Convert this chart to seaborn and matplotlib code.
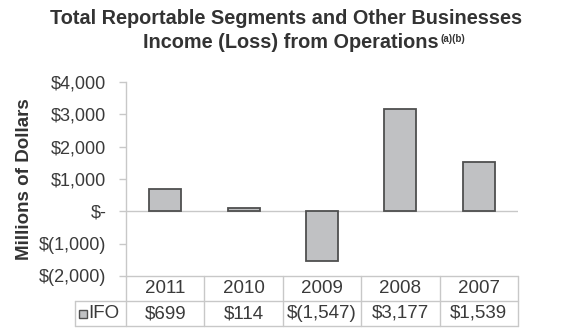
import matplotlib
matplotlib.use("Agg")
import matplotlib.pyplot as plt
import seaborn as sns
import pandas as pd
from matplotlib.patches import Rectangle
from matplotlib.lines import Line2D

years = ["2011", "2010", "2009", "2008", "2007"]
ifo = [699, 114, -1547, 3177, 1539]
series_name = "IFO"
yticks = [4000, 3000, 2000, 1000, 0, -1000, -2000]
ytick_labels = ["$4,000", "$3,000", "$2,000", "$1,000", "$-", "$(1,000)", "$(2,000)"]

sns.set_theme(style="white")
plt.rcParams["font.family"] = ["Liberation Sans", "DejaVu Sans"]

BAR = "#c0c1c3"
EDGE = "#4f4f4f"
GRID = "#c8c8c8"
TXT = "#333333"
LBL = "#3a3a3a"

def money(v):
    s = f"{abs(v):,}"
    return f"$({s})" if v < 0 else f"${s}"

df = pd.DataFrame({"year": years, "value": ifo})

fig = plt.figure(figsize=(5.64, 3.30), dpi=100)
ax = fig.add_axes([126 / 564, 1 - 276 / 330, 392 / 564, 194 / 330])

sns.barplot(data=df, x="year", y="value", order=years, color=BAR,
            edgecolor=EDGE, linewidth=1.3, width=0.41, saturation=1, ax=ax)

ax.set_ylim(-2000, 4000)
ax.set_xlim(-0.5, len(years) - 0.5)
ax.set_yticks(yticks)
ax.set_yticklabels(ytick_labels, fontsize=13, color=LBL)
ax.set_xticks([])
ax.set_xlabel("")
ax.set_ylabel("Millions of Dollars", fontsize=13.5, fontweight="bold", color=TXT)
ax.yaxis.set_label_coords(-93 / 392, 0.5)
ax.axhline(0, color=GRID, lw=1.0, zorder=0)
for s in ["top", "right", "bottom"]:
    ax.spines[s].set_visible(False)
ax.spines["left"].set_color(GRID)
ax.spines["left"].set_linewidth(1.0)
ax.tick_params(axis="y", left=True, length=5, width=1.0, color=GRID, pad=9)

# data table under the plot
row_h = 25 / 194
tab_kw = dict(transform=ax.transAxes, clip_on=False, color=GRID, lw=1.0)
label_x0 = -51 / 392
ax.add_line(Line2D([0, 1], [0, 0], **tab_kw))
ax.add_line(Line2D([label_x0, 1], [-row_h, -row_h], **tab_kw))
ax.add_line(Line2D([label_x0, 1], [-2 * row_h, -2 * row_h], **tab_kw))
ax.add_line(Line2D([label_x0, label_x0], [-row_h, -2 * row_h], **tab_kw))
n = len(years)
for i in range(n + 1):
    ax.add_line(Line2D([i / n, i / n], [0, -2 * row_h], **tab_kw))
for i, (yr, v) in enumerate(zip(years, ifo)):
    cx = (i + 0.5) / n
    ax.text(cx, -0.5 * row_h, yr, transform=ax.transAxes, ha="center", va="center",
            fontsize=13.5, color=LBL)
    ax.text(cx, -1.5 * row_h, money(v), transform=ax.transAxes, ha="center", va="center",
            fontsize=13.5, color=LBL)
ax.add_patch(Rectangle((label_x0 + 4 / 392, -1.5 * row_h - 4 / 194), 8 / 392, 8 / 194,
                       transform=ax.transAxes, clip_on=False, facecolor=BAR,
                       edgecolor=EDGE, lw=1.0))
ax.text(label_x0 + 13 / 392, -1.5 * row_h, series_name, transform=ax.transAxes,
        ha="left", va="center", fontsize=13.5, color=LBL)

fig.text(286 / 564, 1 - 18 / 330, "Total Reportable Segments and Other Businesses",
         ha="center", va="center", fontsize=14.3, fontweight="bold", color=TXT)
t2 = fig.text(291 / 564, 1 - 42 / 330, "Income (Loss) from Operations",
              ha="center", va="center", fontsize=14.3, fontweight="bold", color=TXT)
ax.annotate("(a)(b)", xy=(1, 1), xycoords=t2, xytext=(1, -1), textcoords="offset points",
            ha="left", va="top", fontsize=7, fontweight="bold", color=TXT)

fig.savefig("out.png", dpi=100, facecolor="white")
